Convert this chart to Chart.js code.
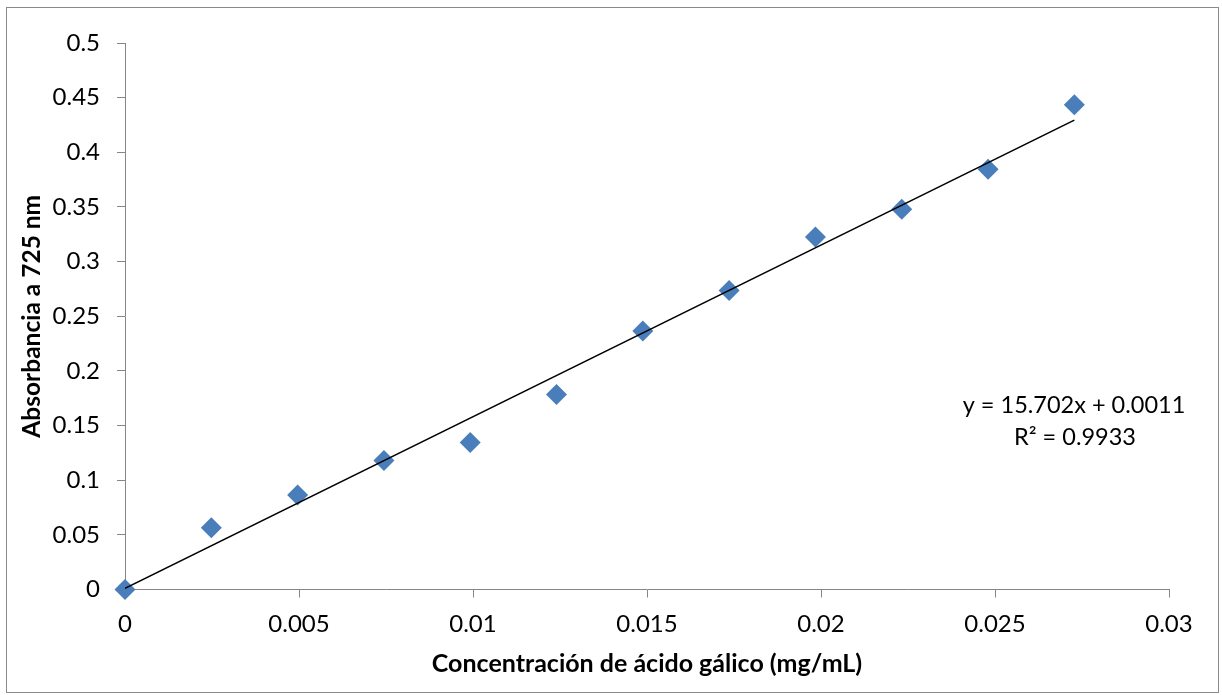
<!DOCTYPE html>
<html>
<head>
<meta charset="utf-8">
<script src="https://cdn.jsdelivr.net/npm/chart.js@4"></script>
<style>
  html, body { margin: 0; padding: 0; background: #fff; }
  #chart { display: block; }
</style>
</head>
<body>
<canvas id="chart" width="1222" height="695"></canvas>
<script>
// data
var concentracion = [0, 0.00248, 0.00496, 0.00744, 0.00992, 0.0124, 0.01488, 0.01736, 0.01984, 0.02232, 0.0248, 0.02728];
var absorbancia = [0, 0.0565, 0.0865, 0.118, 0.1345, 0.1785, 0.2365, 0.2735, 0.3225, 0.348, 0.3845, 0.4435];

// trendline as printed on the chart
var slope = 15.702;
var intercept = 0.0011;
var equationLines = ["y = 15.702x + 0.0011", "R\u00b2 = 0.9933"];

var xTitle = "Concentración de ácido gálico (mg/mL)";
var yTitle = "Absorbancia a 725 nm";

var points = concentracion.map(function(x, i){ return {x: x, y: absorbancia[i]}; });
var xLast = concentracion[concentracion.length - 1];
var trend = [
  {x: 0, y: intercept},
  {x: xLast, y: slope * xLast + intercept}
];

var axisGray = "#868686";
var fontName = "Lato, 'Open Sans', sans-serif";

Chart.defaults.color = "#000";
Chart.defaults.font.family = fontName;

function fmt(v){ return String(+v.toFixed(4)); }

// white background and the outer frame
var framePlugin = {
  id: "frame",
  beforeDraw: function(chart){
    var ctx = chart.ctx;
    ctx.save();
    ctx.fillStyle = "#fff";
    ctx.fillRect(0, 0, chart.width, chart.height);
    ctx.strokeStyle = "#8a8a8a";
    ctx.lineWidth = 1;
    ctx.strokeRect(6.5, 7.5, 1212, 685);
    ctx.restore();
  }
};

// equation label on the right
var equationPlugin = {
  id: "equation",
  afterDraw: function(chart){
    var ctx = chart.ctx;
    ctx.save();
    ctx.fillStyle = "#000";
    ctx.font = "23.5px " + fontName;
    ctx.textAlign = "center";
    ctx.textBaseline = "alphabetic";
    ctx.fillText(equationLines[0], 1074, 413);
    ctx.fillText(equationLines[1], 1075, 445);
    ctx.restore();
  }
};

var ctx = document.getElementById("chart").getContext("2d");
var myChart = new Chart(ctx, {
  type: "scatter",
  data: {
    datasets: [
      {
        label: "trend",
        data: trend,
        showLine: true,
        borderColor: "#000",
        borderWidth: 1.6,
        pointRadius: 0,
        order: 0
      },
      {
        label: "Absorbancia",
        data: points,
        pointStyle: "rectRot",
        pointRadius: 10.5,
        pointBackgroundColor: "#4A7EBB",
        pointBorderColor: "#4A7EBB",
        pointBorderWidth: 0,
        clip: false,
        order: 1
      }
    ]
  },
  options: {
    responsive: false,
    animation: false,
    devicePixelRatio: 1,
    layout: { padding: { top: 43, right: 53, bottom: 0, left: 0 } },
    plugins: {
      legend: { display: false },
      tooltip: { enabled: false }
    },
    scales: {
      x: {
        type: "linear",
        min: 0,
        max: 0.03,
        afterFit: function(scale){ scale.height = 105.5; },
        ticks: { stepSize: 0.005, padding: 12, font: { size: 24 }, callback: fmt, maxRotation: 0 },
        grid: { drawOnChartArea: false, drawTicks: true, tickLength: 8, color: axisGray },
        border: { display: true, color: axisGray, width: 1 },
        title: { display: true, text: xTitle, font: { size: 25, weight: "bold" }, padding: { top: 0, bottom: 16 } }
      },
      y: {
        type: "linear",
        min: 0,
        max: 0.5,
        afterFit: function(scale){ scale.width = 125; },
        ticks: { stepSize: 0.05, padding: 17, font: { size: 24 }, callback: fmt },
        grid: { drawOnChartArea: false, drawTicks: true, tickLength: 8, color: axisGray },
        border: { display: true, color: axisGray, width: 1 },
        title: { display: true, text: yTitle, font: { size: 24.5, weight: "bold" }, padding: { top: 17, bottom: 0 } }
      }
    }
  },
  plugins: [framePlugin, equationPlugin]
});
</script>
</body>
</html>
